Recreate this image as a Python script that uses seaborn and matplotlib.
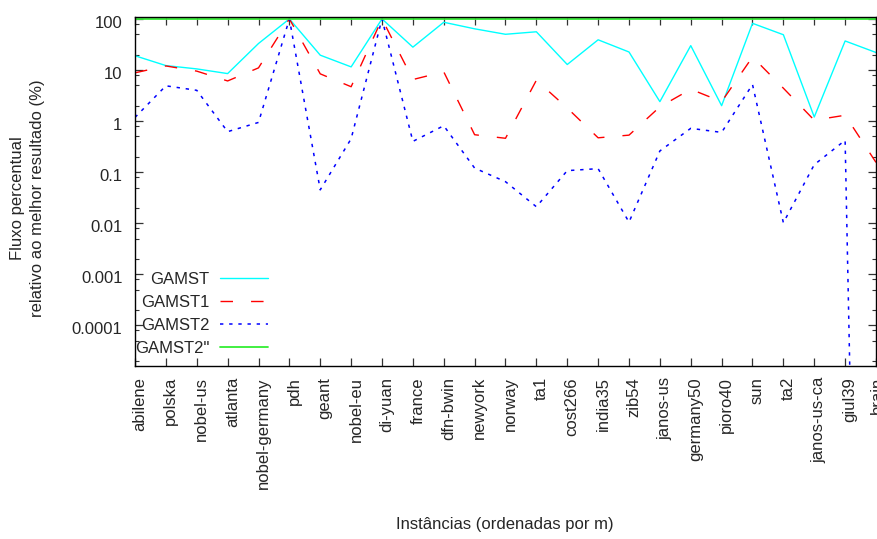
import numpy as np
import pandas as pd
import matplotlib
matplotlib.use("Agg")
import matplotlib.pyplot as plt
import matplotlib.transforms as mtrans
from matplotlib.ticker import LogLocator, FixedFormatter, FixedLocator, NullFormatter
import seaborn as sns

instances = ["abilene", "polska", "nobel-us", "atlanta", "nobel-germany", "pdh",
             "geant", "nobel-eu", "di-yuan", "france", "dfn-bwin", "newyork",
             "norway", "ta1", "cost266", "india35", "zib54", "janos-us",
             "germany50", "pioro40", "sun", "ta2", "janos-us-ca", "giul39", "brain"]

gamst = [19, 12.2, 10.5, 8.5, 33, 100, 19.5, 11.5, 100, 28, 86, 64,
         50, 56, 12.8, 39, 22.5, 2.4, 30, 2.0, 82, 49, 1.2, 37, 22]
gamst1 = [8.8, 12, 9.5, 6.1, 11, 100, 8.4, 4.7, 100, 6.5, 9.2, 0.54,
          0.46, 6.3, 1.8, 0.47, 0.53, 1.9, 4.2, 2.4, 18, 4.4, 1.04, 1.3, 0.155]
gamst2 = [1.18, 4.9, 4.0, 0.62, 0.94, 100, 0.045, 0.45, 100, 0.40, 0.81, 0.12,
          0.065, 0.021, 0.107, 0.117, 0.0105, 0.26, 0.72, 0.60, 5.2, 0.0102, 0.14, 0.42, 1e-30]
gamst2b = [100] * len(instances)

series_names = ["GAMST", "GAMST1", "GAMST2", 'GAMST2"']
series_values = [gamst, gamst1, gamst2, gamst2b]
colors = ["#00ffff", "#ff0000", "#0000ff", "#33ee33"]
styles = ["-", (0, (9, 13)), (0, (2.2, 3.8)), "-"]
widths = [1.0, 1.0, 1.1, 1.3]

sns.set_style("ticks")
plt.rcParams["font.family"] = ["Liberation Sans", "DejaVu Sans"]
plt.rcParams["font.size"] = 12

W, H = 878, 539
fig = plt.figure(figsize=(W / 100, H / 100), dpi=100)
ax = fig.add_axes([135 / W, 1 - 366 / H, (876 - 135) / W, (366 - 17) / H])
ax.set_yscale("log")

for name, vals, c, ls, lw in zip(series_names, series_values, colors, styles, widths):
    df = pd.DataFrame({"instance": instances, "value": vals})
    sns.lineplot(data=df, x="instance", y="value", color=c, linestyle=ls,
                 linewidth=lw, label=name, ax=ax, sort=False)

ax.set_xlim(0, len(instances) - 1)
ax.set_ylim(1.6e-5, 109)

yt = [1e-4, 1e-3, 1e-2, 1e-1, 1, 10, 100]
ax.yaxis.set_major_locator(FixedLocator(yt))
ax.yaxis.set_major_formatter(FixedFormatter(["0.0001", "0.001", "0.01", "0.1", "1", "10", "100"]))
ax.yaxis.set_minor_locator(LogLocator(base=10, subs=[2, 5, 8], numticks=30))
ax.yaxis.set_minor_formatter(NullFormatter())

ax.set_xticks(range(len(instances)))
ax.set_xticklabels(instances, rotation=90, ha="center", va="top")

for s in ax.spines.values():
    s.set_visible(True)
    s.set_linewidth(1.0)
    s.set_color("black")

ax.tick_params(axis="both", which="major", direction="in", length=6, width=0.9,
               color="#333333", top=True, right=True, labelsize=12)
ax.tick_params(axis="y", which="minor", direction="in", length=3, width=0.8,
               color="#333333", left=True, right=True)
ax.tick_params(axis="x", which="major", pad=8)
ax.tick_params(axis="y", which="major", pad=9)
ax.grid(False)

xlabs = ax.get_xticklabels()
for i, lab in enumerate(xlabs):
    dx = 5 if i < len(xlabs) - 1 else 1
    lab.set_transform(lab.get_transform() + mtrans.ScaledTranslation(dx / 100, 0, fig.dpi_scale_trans))
off_y = mtrans.ScaledTranslation(0, -3 / 100, fig.dpi_scale_trans)
for lab in ax.get_yticklabels():
    lab.set_transform(lab.get_transform() + off_y)

ax.set_xlabel("")
ax.set_ylabel("")
fig.text(505 / W, 1 - 525 / H, "Instâncias (ordenadas por m)", ha="center", va="center", fontsize=12)
fig.text(18 / W, 1 - 198 / H, "Fluxo percentual", ha="center", va="center", rotation=90, fontsize=12)
fig.text(38 / W, 1 - 198 / H, "relativo ao melhor resultado (%)", ha="center", va="center", rotation=90, fontsize=12)

handles, labels = ax.get_legend_handles_labels()
leg = ax.legend(handles, labels, loc="lower right",
                bbox_to_anchor=((268 - 135) / 741, (366 - 356) / 349),
                markerfirst=False, frameon=False, borderpad=0, borderaxespad=0,
                handlelength=2.9, handletextpad=0.6, labelspacing=0.48, fontsize=12)

fig.savefig("out.png", dpi=100)
